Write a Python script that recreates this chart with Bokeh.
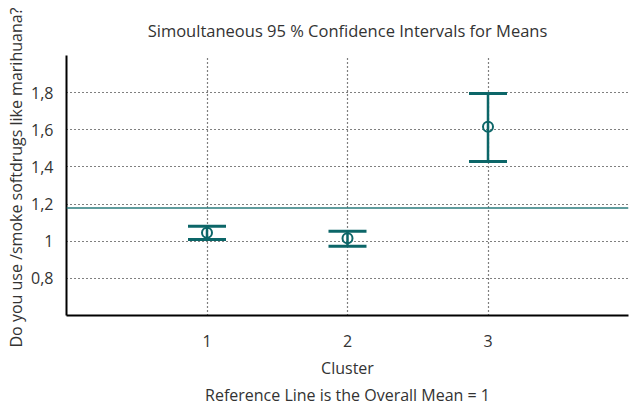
from bokeh.plotting import figure
from bokeh.models import FixedTicker, Title, Range1d, Span, ColumnDataSource
from bokeh.embed import file_html
from bokeh.resources import INLINE

# ---- data ----
clusters = [1, 2, 3]
means = [1.045, 1.016, 1.616]
lower = [1.009, 0.973, 1.429]
upper = [1.081, 1.054, 1.795]
overall_mean = 1.179
y_ticks = [0.8, 1.0, 1.2, 1.4, 1.6, 1.8]
y_tick_labels = ["0,8", "1", "1,2", "1,4", "1,6", "1,8"]
x_ticks = [1, 2, 3]
x_tick_labels = ["1", "2", "3"]
x_grid = [1, 2, 3, 4]

title_text = "Simoultaneous 95 % Confidence Intervals for Means"
y_label = "Do you use /smoke softdrugs like marihuana?"
x_label = "Cluster"
footer = "Reference Line is the Overall Mean = 1"

FONT = "Open Sans"
FS = "16px"
TEAL = "#0c6668"
TEXT = "#333333"

p = figure(width=630, height=405, output_backend="svg", toolbar_location=None,
           x_range=Range1d(0, 4), y_range=Range1d(0.6, 2.0),
           min_border_left=65, min_border_right=2, min_border_top=55, min_border_bottom=89)
p.outline_line_color = None
p.background_fill_color = "white"
p.border_fill_color = "white"

# title
p.title.text = title_text
p.title.align = "center"
p.title.text_font = FONT
p.title.text_font_size = "16.5px"
p.title.text_font_style = "normal"
p.title.text_color = TEXT
p.title.standoff = 28

# axes
for ax in (p.xaxis[0], p.yaxis[0]):
    ax.axis_line_width = 2
    ax.axis_line_color = "black"
    ax.major_tick_line_color = None
    ax.minor_tick_line_color = None
    ax.major_label_text_font = FONT
    ax.major_label_text_font_size = FS
    ax.major_label_text_color = TEXT
    ax.axis_label_text_font = FONT
    ax.axis_label_text_font_size = FS
    ax.axis_label_text_font_style = "normal"
    ax.axis_label_text_color = TEXT

p.xaxis.ticker = FixedTicker(ticks=x_ticks)
p.xaxis.major_label_overrides = {t: l for t, l in zip(x_ticks, x_tick_labels)}
p.xaxis.axis_label = x_label
p.xaxis.major_label_standoff = 13
p.xaxis.axis_label_standoff = 7

p.yaxis.ticker = FixedTicker(ticks=y_ticks)
p.yaxis.major_label_overrides = {t: l for t, l in zip(y_ticks, y_tick_labels)}
p.yaxis.major_label_standoff = 7

# grids
p.xgrid.ticker = FixedTicker(ticks=x_grid)
for g in (p.xgrid[0], p.ygrid[0]):
    g.grid_line_color = "black"
    g.grid_line_width = 1.2
    g.grid_line_dash = "1 3"

# y label as a left title
p.add_layout(Title(text=y_label, align="left", offset=-32, text_font=FONT,
                   text_font_size=FS, text_font_style="normal",
                   text_color=TEXT, standoff=4), "left")

# footer
p.add_layout(Title(text=footer, align="center", text_font=FONT,
                   text_font_size=FS, text_font_style="normal",
                   text_color=TEXT, standoff=0), "below")

# reference line
p.add_layout(Span(location=overall_mean, dimension="width",
                  line_color="#2a7b7c", line_width=1.6))

src = ColumnDataSource(dict(x=clusters, m=means, lo=lower, hi=upper))
p.segment(x0="x", y0="lo", x1="x", y1="hi", source=src, line_color=TEAL, line_width=2.5)
p.scatter(x="x", y="lo", source=src, marker="dash", size=38, line_color=TEAL, line_width=3)
p.scatter(x="x", y="hi", source=src, marker="dash", size=38, line_color=TEAL, line_width=3)
p.scatter(x="x", y="m", source=src, marker="circle", size=10, line_color=TEAL,
          fill_color=None, line_width=2)

open("out.html", "w").write(file_html(p, INLINE))
